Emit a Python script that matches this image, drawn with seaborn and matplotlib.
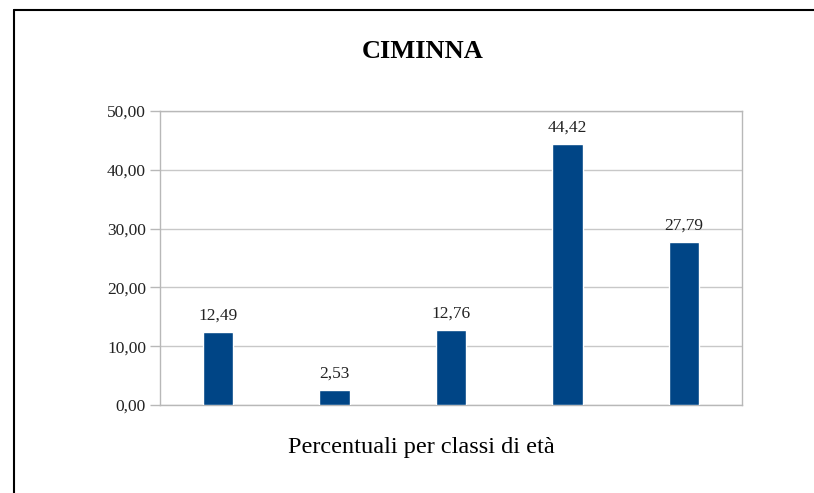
import matplotlib
matplotlib.use("Agg")
import matplotlib.pyplot as plt
from matplotlib.lines import Line2D
import seaborn as sns
import pandas as pd

categories = ["A", "B", "C", "D", "E"]
values = [12.49, 2.53, 12.76, 44.42, 27.79]
value_labels = ["12,49", "2,53", "12,76", "44,42", "27,79"]
yticks = [0, 10, 20, 30, 40, 50]
ytick_labels = ["0,00", "10,00", "20,00", "30,00", "40,00", "50,00"]
title = "CIMINNA"
xlabel = "Percentuali per classi di età"

sns.set_theme(style="white")
plt.rcParams["font.family"] = ["Liberation Serif", "DejaVu Serif"]

W, H = 814, 493
fig = plt.figure(figsize=(W / 100, H / 100), dpi=100)
ax = fig.add_axes([160 / W, 1 - 405 / H, (742 - 160) / W, (405 - 111) / H])

df = pd.DataFrame({"cat": categories, "val": values})
sns.barplot(data=df, x="cat", y="val", color="#004586", saturation=1,
            width=0.26, ax=ax, zorder=3)

ax.set_ylim(0, 50)
ax.set_xlim(-0.5, len(categories) - 0.5)
ax.set_yticks(yticks)
ax.set_yticklabels(ytick_labels, fontsize=12.5, color="#222222")
ax.set_xticks([])
ax.set_xlabel("")
ax.set_ylabel("")
ax.yaxis.grid(True, color="#c8c8c8", linewidth=1, zorder=0)
ax.set_axisbelow(True)
for s in ax.spines.values():
    s.set_visible(True)
    s.set_color("#b8b8b8")
    s.set_linewidth(1)
ax.tick_params(axis="y", length=7, width=1, color="#b8b8b8", pad=3, left=True)

for i, (v, lab) in enumerate(zip(values, value_labels)):
    ax.annotate(lab, (i, v), xytext=(0, 6), textcoords="offset points",
                ha="center", va="bottom", fontsize=12.5, color="#222222")

fig.text(423 / W, 1 - 51 / H, title, ha="center", va="center",
         fontsize=19, fontweight="bold", color="black")
fig.text(421 / W, 1 - 447 / H, xlabel, ha="center", va="center",
         fontsize=17.5, color="black")

fig.add_artist(Line2D([14 / W, 1], [1 - 10 / H, 1 - 10 / H], color="black", linewidth=1.5))
fig.add_artist(Line2D([14 / W, 14 / W], [0, 1 - 10 / H], color="black", linewidth=1.5))

fig.savefig("out.png", dpi=100)
